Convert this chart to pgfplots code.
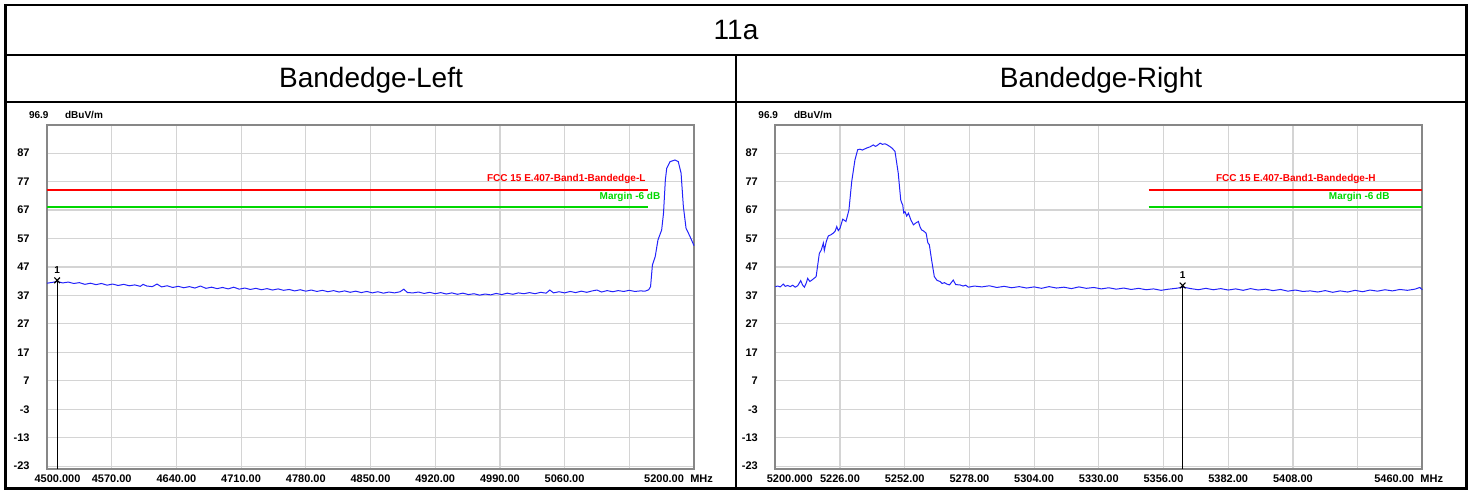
\documentclass[border=0pt]{standalone}
\usepackage{fontspec}
\setmainfont{Liberation Sans}
\usepackage{pgfplots}
\pgfplotsset{compat=1.18}

\definecolor{trace}{RGB}{35,35,250}
\definecolor{limred}{RGB}{255,0,0}
\definecolor{limgreen}{RGB}{0,215,0}
\definecolor{gridgray}{RGB}{212,212,212}
\definecolor{framegray}{RGB}{135,135,135}

\newcommand\sa{\fontsize{5}{6}\selectfont\bfseries}
\newcommand\tk{\fontsize{5.5}{6.5}\selectfont\bfseries}

\tikzset{tl/.style={font=\tk, anchor=north, inner sep=0.333em, yshift=0.6pt}}

\pgfplotsset{
  spec/.style={
    scale only axis,
    width=323.5pt, height=172.15pt,
    anchor=south west,
    ymin=-24.1, ymax=96.9,
    ytick={-23,-13,...,87},
    yticklabels={-23,-13,-3,7,17,27,37,47,57,67,77,87},
    grid=major,
    grid style={gridgray, line width=0.6pt},
    axis line style={framegray, line width=1pt},
    major tick length=0pt,
    tick label style={font=\tk},
    xticklabel style={yshift=0.6pt},
    yticklabel style={xshift=-5.2pt},
    clip=false,
  },
  mk/.style={black, only marks, mark=x, mark size=2pt, line width=0.55pt,
    nodes near coords={1},
    every node near coord/.style={font=\sa, anchor=south, yshift=0pt}},
}

\begin{document}
\begin{tikzpicture}
\useasboundingbox (0,0) rectangle (736pt,-245.5pt);

% table frame
\draw[line width=1.2pt] (2.75pt,-2.5pt) rectangle (733.25pt,-244.25pt);
\draw[line width=1pt] (2.75pt,-27.5pt) -- (733.25pt,-27.5pt);
\draw[line width=1pt] (2.75pt,-51.25pt) -- (733.25pt,-51.25pt);
\draw[line width=1pt] (368pt,-27.5pt) -- (368pt,-244.25pt);
\node[font=\fontsize{14}{16}\selectfont] at (368pt,-15pt) {11a};
\node[font=\fontsize{14}{16}\selectfont] at (185.5pt,-40pt) {Bandedge-Left};
\node[font=\fontsize{14}{16}\selectfont] at (550.5pt,-40pt) {Bandedge-Right};

% header texts of the analyser plots
\node[font=\sa] at (19.4pt,-57.5pt) {96.9};
\node[font=\sa] at (42pt,-57.5pt) {dBuV/m};
\node[font=\sa] at (384.1pt,-57.5pt) {96.9};
\node[font=\sa] at (406.5pt,-57.5pt) {dBuV/m};

% ---------- left: 4500 - 5200 MHz ----------
\begin{axis}[spec,
  at={(23.5pt,-234.65pt)},
  xmin=4500, xmax=5200,
  xtick={4500,4570,...,5200},
  xticklabels={,4570.00,4640.00,4710.00,4780.00,4850.00,4920.00,4990.00,5060.00,,},
]
\addplot[limred, line width=0.85pt] coordinates {(4500,74)(5150,74)};
\addplot[limgreen, line width=0.85pt] coordinates {(4500,68)(5150,68)};
\addplot[trace, line width=0.5pt] coordinates {
(4500,41.3)(4506,41.6)(4511,41.9)(4517,41.4)(4523,41.7)(4529,41.2)(4535,41.5)
(4541,40.9)(4547,41.3)(4553,40.8)(4559,41.2)(4565,40.6)(4571,41.0)(4577,40.5)
(4583,40.9)(4589,40.4)(4595,40.7)(4601,40.2)(4604,40.9)(4608,40.3)(4614,40.1)
(4619,41.0)(4624,40.0)(4630,40.4)(4636,39.8)(4642,40.2)(4648,39.7)(4654,40.1)
(4660,39.6)(4666,40.3)(4672,39.5)(4678,39.9)(4684,39.4)(4690,39.8)(4696,39.3)
(4702,39.9)(4708,39.2)(4714,39.6)(4720,39.1)(4726,39.5)(4732,39.0)(4738,39.4)
(4744,38.9)(4750,39.3)(4756,38.8)(4762,39.1)(4768,38.6)(4774,39.0)(4780,38.5)
(4786,38.9)(4792,38.4)(4798,38.8)(4804,38.3)(4810,38.7)(4816,38.2)(4822,38.6)
(4828,38.1)(4834,38.5)(4840,38.0)(4846,38.4)(4852,37.9)(4858,38.3)(4864,37.8)
(4870,38.2)(4876,37.9)(4882,38.3)(4886,39.2)(4890,38.0)(4896,37.9)(4902,38.2)
(4908,37.7)(4914,38.1)(4920,37.6)(4926,38.0)(4932,37.5)(4938,37.9)(4944,37.4)
(4950,37.8)(4956,37.3)(4962,37.6)(4968,37.1)(4974,37.5)(4980,37.2)(4986,37.7)
(4992,37.3)(4998,37.8)(5004,37.4)(5010,37.9)(5016,37.6)(5022,38.0)(5028,37.6)
(5034,38.1)(5040,37.8)(5044,38.9)(5048,37.9)(5054,38.3)(5060,37.9)(5066,38.4)
(5072,38.0)(5078,38.5)(5084,38.1)(5090,38.6)(5095,38.9)(5100,38.2)(5106,38.7)
(5112,38.3)(5118,38.7)(5124,38.4)(5130,38.8)(5136,38.4)(5142,38.6)(5147,38.5)
(5151,39.0)(5153,40.1)(5155,47.7)(5158,50.6)(5161,56.5)(5165,60.0)(5167,65.9)
(5169,77.6)(5170.5,81.7)(5174,84.0)(5179.5,84.6)(5183,84.0)(5186,80.0)
(5188.5,68.2)(5191.4,60.6)(5195.7,57.7)(5200,54.5)
};
\addplot[black, line width=0.5pt] coordinates {(4511,-24.1)(4511,42.3)};
\addplot[mk] coordinates {(4511,42.3)};
\node[font=\sa, text=limred, anchor=east, inner sep=0.5pt] at (axis cs:5149,77.9) {FCC 15 E.407-Band1-Bandedge-L};
\node[font=\sa, text=limgreen, anchor=east, inner sep=0.5pt] at (axis cs:5165,71.7) {Margin -6 dB};
\node[tl] at (axis cs:4511.4,-24.1) {4500.000};
\node[tl] at (axis cs:5167.6,-24.1) {5200.00};
\node[tl] at (axis cs:5208.2,-24.1) {MHz};
\end{axis}

% ---------- right: 5200 - 5460 MHz ----------
\begin{axis}[spec,
  at={(387.65pt,-234.65pt)},
  xmin=5200, xmax=5460,
  xtick={5200,5226,...,5460},
  xticklabels={,5226.00,5252.00,5278.00,5304.00,5330.00,5356.00,5382.00,5408.00,,},
]
\addplot[limred, line width=0.85pt] coordinates {(5350,74)(5460,74)};
\addplot[limgreen, line width=0.85pt] coordinates {(5350,68)(5460,68)};
\addplot[trace, line width=0.5pt] coordinates {
(5200,40.1)(5201,40.3)(5202,40.0)(5203.2,41.0)(5204,40.2)(5205,40.5)(5206,40.1)
(5207,40.6)(5208,39.9)(5209,40.4)(5210.2,42.2)(5211,40.6)(5211.7,39.9)(5212.5,41.5)
(5213,43.0)(5213.9,41.9)(5215,42.6)(5216.4,43.6)(5217.7,51.8)(5218.5,53.0)
(5219.3,55.4)(5219.7,52.8)(5220.5,56.0)(5221.3,57.9)(5222.3,58.3)(5223.3,58.9)
(5224,59.5)(5224.7,61.2)(5225.3,59.8)(5226,60.6)(5227.1,63.8)(5228.4,63.0)
(5229.6,67.1)(5230.7,77.0)(5232,84.6)(5233.1,88.2)(5234,88.4)(5235,88.1)
(5236.7,88.8)(5238,89.2)(5239.4,89.9)(5240.2,89.4)(5240.8,89.6)(5242.1,90.5)
(5243,90.1)(5244.1,90.3)(5245,89.9)(5246.1,89.3)(5247,88.7)(5248.1,87.6)
(5249.4,80.0)(5250.4,70.6)(5250.8,69.5)(5251.2,68.8)(5251.6,66.0)(5252.1,66.5)
(5252.8,64.9)(5253.5,65.9)(5254.5,63.5)(5255.5,61.8)(5256.5,62.5)(5257.5,63.0)
(5258.2,61.0)(5258.8,60.0)(5259.5,59.7)(5260.6,58.9)(5261.3,55.5)(5261.9,54.8)
(5262.8,49.5)(5263.9,43.6)(5265,42.3)(5266.2,41.9)(5267,41.2)(5268,41.5)
(5268.9,41.0)(5270,40.7)(5271.5,42.4)(5272.5,40.8)(5274.2,40.7)(5275.5,40.3)
(5276.5,40.6)(5277.6,39.9)(5280,40.3)(5283,40.0)(5286,40.4)(5289,39.8)
(5292,40.2)(5295,39.7)(5298,40.1)(5301,39.6)(5304,40.0)(5307,39.5)(5310,40.1)
(5313,39.6)(5316,39.9)(5319,39.4)(5322,40.0)(5325,39.5)(5328,39.8)(5331,39.3)
(5334,39.7)(5337,39.2)(5340,39.6)(5343,39.1)(5346,39.5)(5349,39.0)(5352,39.3)
(5355,38.8)(5358,39.2)(5361,39.5)(5364,39.9)(5367,39.4)(5370,39.0)(5373,39.5)
(5376,39.0)(5379,39.4)(5382,38.9)(5385,39.3)(5388,38.8)(5391,39.4)(5394,38.9)
(5397,39.2)(5400,38.7)(5403,39.1)(5406,38.5)(5409,38.9)(5412,38.4)(5415,38.6)
(5418,38.2)(5421,38.7)(5424,38.1)(5427,38.6)(5430,38.2)(5433,38.8)(5436,38.3)
(5439,38.9)(5442,38.5)(5445,39.0)(5448,38.6)(5451,39.1)(5454,38.8)(5457,39.2)
(5459,39.8)(5460,39.0)
};
\addplot[black, line width=0.5pt] coordinates {(5363.7,-24.1)(5363.7,40.5)};
\addplot[mk] coordinates {(5363.7,40.5)};
\node[font=\sa, text=limred, anchor=east, inner sep=0.5pt] at (axis cs:5441.8,77.9) {FCC 15 E.407-Band1-Bandedge-H};
\node[font=\sa, text=limgreen, anchor=east, inner sep=0.5pt] at (axis cs:5447.4,71.7) {Margin -6 dB};
\node[tl] at (axis cs:5205.8,-24.1) {5200.000};
\node[tl] at (axis cs:5448.7,-24.1) {5460.00};
\node[tl] at (axis cs:5463.8,-24.1) {MHz};
\end{axis}
\end{tikzpicture}
\end{document}
